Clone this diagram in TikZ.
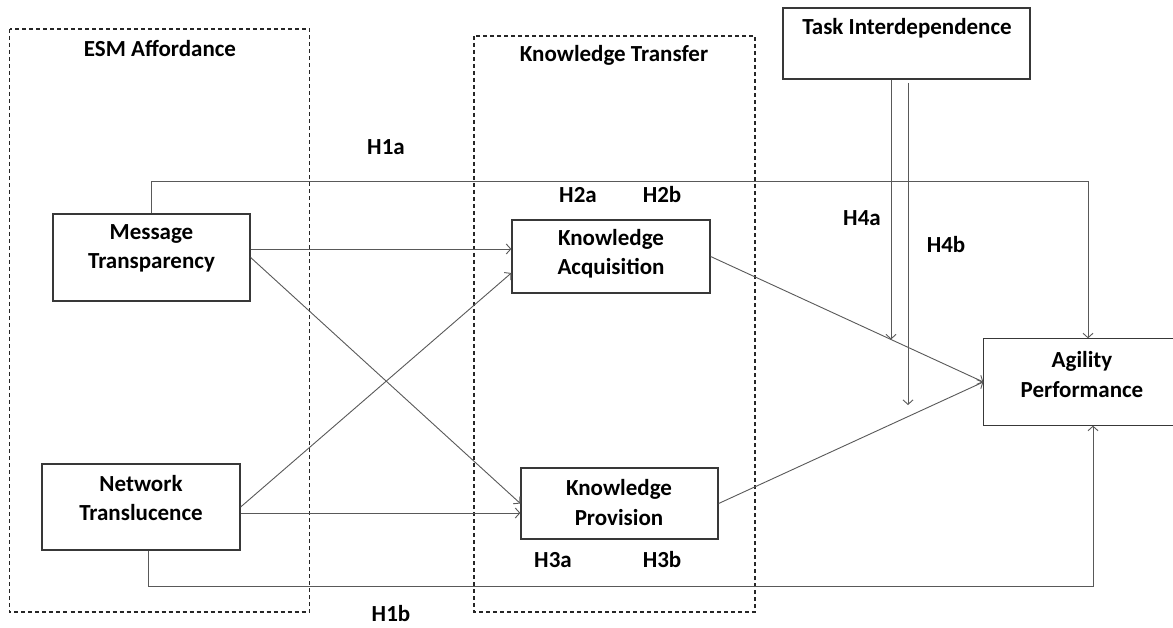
\documentclass[tikz,border=0pt]{standalone}
\usepackage{fontspec}
\setmainfont{Carlito}
\usetikzlibrary{arrows.meta,calc}
\begin{document}
\begin{tikzpicture}[x=1pt,y=-1pt,
  font=\bfseries\fontsize{23}{29.5}\selectfont,
  boxline/.style={draw=black!78,line width=1.3pt},
  box/.style={boxline,minimum width=#1,inner sep=0pt},
  lbl/.style={align=center,text=black,inner sep=0pt},
  group/.style={draw=black!85,line width=1.1pt,dash pattern=on 4pt off 3pt},
  conn/.style={draw=black!65,line width=0.9pt},
  arr/.style={conn,-{Straight Barb[length=4.5pt,width=10pt]}},
  hyp/.style={inner sep=0pt,text=black}]
\useasboundingbox[fill=white] (0,0) rectangle (1173,628);
\clip (0,0) rectangle (1173,628);
% groups
\draw[group] (9.5,29) rectangle (309.5,612);
\draw[group] (474,36) rectangle (755,612);
\node[lbl] (gEsm) at (160,49) {ESM Affordance};
\node[lbl] (gKt) at (614,55) {Knowledge Transfer};
% boxes
\node[box=197pt,minimum height=87pt] (mt) at (151.5,257.5) {};
\node[lbl] (mtT) at (151.5,248.5) {Message\\Transparency};
\node[box=198pt,minimum height=73pt] (ka) at (611,256.5) {};
\node[lbl] (kaT) at (611,253.5) {Knowledge\\Acquisition};
\node[box=198pt,minimum height=86pt] (nt) at (141,507) {};
\node[lbl] (ntT) at (141,498) {Network\\Translucence};
\node[box=197pt,minimum height=71pt] (kp) at (619.5,503.5) {};
\node[lbl] (kpT) at (619,502.5) {Knowledge\\Provision};
% Agility Performance box runs off the right edge of the picture
\node[box=208pt,minimum height=86pt,draw=none] (ap) at (1088,382) {};
\draw[boxline] (ap.north east) -- (ap.north west) -- (ap.south west) -- (ap.south east);
\node[lbl] (apT) at (1082,374.5) {Agility\\Performance};
\node[box=247pt,minimum height=71pt] (ti) at (906.5,43.5) {};
\node[lbl] (tiT) at (907,28) {Task Interdependence};
% helper coordinates
\coordinate (ytop) at (0,181);
\coordinate (ybot) at (0,586);
\coordinate (m1) at (891,339.5);
\coordinate (m2) at (908,405);
\path ([yshift=8.5pt]mt.east) coordinate (mtA);
\path ([yshift=-6pt]nt.east) coordinate (ntB);
\path ([xshift=-15.5pt]ti.south) coordinate (tiA);
\path (908,83) coordinate (tiB);
% H1a / H1b
\draw[arr] (mt.north) -- (mt.north |- ytop) -| (ap.north);
\draw[arr] ([xshift=7pt]nt.south) -- ([xshift=7pt]nt.south |- ybot) -| ([xshift=5pt]ap.south);
% H2 / H3
\draw[arr] (mtA) -- (mtA -| ka.west);
\draw[arr] (mt.east) -- (kp.west);
\draw[arr] (nt.east) -- ([yshift=-16.5pt]ka.west);
\draw[arr] (ntB) -- (ntB -| kp.west);
\draw[arr] (ka.east) -- (ap.west);
\draw[arr] (kp.east) -- (ap.west);
% moderators
\draw[arr] (tiA) -- (m1);
\draw[arr] (tiB) -- (m2);
% hypothesis labels
\node[hyp] (h1a) at (386,147) {H1a};
\node[hyp] (h1b) at (391,614) {H1b};
\node[hyp] (h2a) at (578,195) {H2a};
\node[hyp] (h2b) at (662,195) {H2b};
\node[hyp] (h3a) at (553,560) {H3a};
\node[hyp] (h3b) at (662,560) {H3b};
\node[hyp] (h4a) at (862,218) {H4a};
\node[hyp] (h4b) at (946,245) {H4b};
\end{tikzpicture}
\end{document}
